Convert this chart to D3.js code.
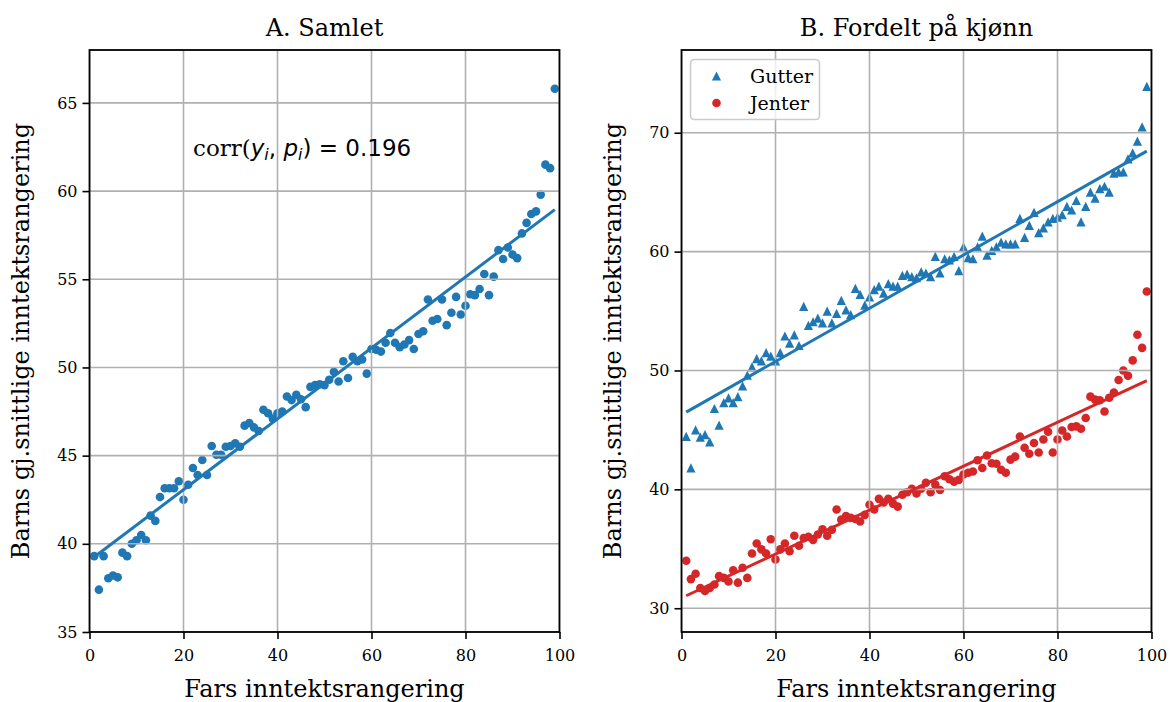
<!DOCTYPE html>
<html>
<head>
<meta charset="utf-8">
<script src="https://cdn.jsdelivr.net/npm/d3@7"></script>
<style>
  body { margin: 0; background: #fff; }
  text { font-family: 'DejaVu Serif', serif; fill: #000; }
</style>
</head>
<body>
<div id="chart"></div>
<script>
// fathers' income rank (x) for every point
const ranks = [
  1, 2, 3, 4, 5, 6, 7, 8, 9, 10, 11, 12, 13, 14, 15, 16, 17, 18, 19, 20,
  21, 22, 23, 24, 25, 26, 27, 28, 29, 30, 31, 32, 33, 34, 35, 36, 37, 38, 39, 40,
  41, 42, 43, 44, 45, 46, 47, 48, 49, 50, 51, 52, 53, 54, 55, 56, 57, 58, 59, 60,
  61, 62, 63, 64, 65, 66, 67, 68, 69, 70, 71, 72, 73, 74, 75, 76, 77, 78, 79, 80,
  81, 82, 83, 84, 85, 86, 87, 88, 89, 90, 91, 92, 93, 94, 95, 96, 97, 98, 99
]
// A. Samlet - children's mean income rank
const samlet = [
  39.3, 37.4, 39.3, 38.05, 38.2, 38.1, 39.5, 39.3, 40.0, 40.2,
  40.5, 40.2, 41.6, 41.3, 42.65, 43.15, 43.15, 43.15, 43.55, 42.5,
  43.35, 44.3, 43.9, 44.75, 43.9, 45.55, 45.05, 45.05, 45.5, 45.55,
  45.7, 45.5, 46.7, 46.85, 46.6, 46.4, 47.6, 47.4, 47.1, 47.4,
  47.5, 48.35, 48.15, 48.45, 48.2, 47.75, 48.9, 49.0, 49.05, 49.0,
  49.3, 49.75, 49.2, 50.35, 49.4, 50.6, 50.35, 50.45, 49.65, 51.05,
  51.0, 50.9, 51.4, 51.95, 51.4, 51.15, 51.3, 51.55, 51.05, 51.9,
  52.05, 53.85, 52.65, 52.75, 53.85, 52.4, 53.1, 54.0, 53.0, 53.5,
  54.15, 54.1, 54.45, 55.3, 54.1, 55.15, 56.65, 56.15, 56.8, 56.4,
  56.2, 57.6, 58.2, 58.7, 58.85, 59.8, 61.5, 61.3, 65.8
]
const samletFit = [[1, 39.25], [99, 58.95]]
const corrLabel = 0.196

// B. Fordelt på kjønn
const gutter = [
  44.45, 41.8, 45.0, 44.4, 44.6, 44.0, 46.8, 45.4, 47.3, 47.7,
  47.3, 47.8, 48.7, 49.6, 50.3, 51.0, 50.8, 51.5, 51.2, 50.8,
  51.5, 52.9, 52.3, 53.0, 52.1, 55.4, 53.8, 54.1, 54.4, 54.0,
  55.0, 54.0, 54.8, 55.9, 55.1, 54.7, 56.9, 56.4, 55.5, 56.2,
  56.8, 57.1, 56.5, 57.3, 57.1, 57.1, 58.0, 58.1, 57.9, 57.8,
  58.3, 58.2, 57.9, 59.6, 58.2, 59.4, 59.3, 59.6, 58.4, 60.4,
  59.5, 59.4, 60.4, 61.3, 59.7, 60.1, 60.4, 60.8, 60.65, 60.65,
  60.65, 62.8, 61.2, 62.2, 63.3, 61.6, 62.0, 62.5, 62.8, 62.9,
  63.1, 63.8, 63.5, 64.3, 62.5, 63.8, 65.0, 64.5, 65.3, 65.5,
  65.0, 66.6, 66.7, 66.7, 67.8, 68.3, 69.3, 70.5, 73.9
]
const jenter = [
  34.0, 32.45, 32.9, 31.7, 31.45, 31.7, 32.0, 32.7, 32.55, 32.25,
  33.2, 32.15, 33.4, 32.55, 34.6, 35.45, 34.95, 34.6, 35.8, 34.1,
  34.95, 35.45, 34.8, 36.1, 35.25, 35.9, 36.0, 35.75, 36.2, 36.65,
  36.1, 36.6, 38.3, 37.45, 37.75, 37.6, 37.5, 37.3, 37.85, 38.7,
  38.3, 39.2, 38.9, 39.2, 38.8, 38.55, 39.55, 39.75, 40.05, 39.65,
  40.05, 40.55, 39.75, 40.4, 39.95, 41.1, 40.85, 40.65, 40.8, 41.25,
  41.4, 41.5, 42.45, 41.8, 42.85, 42.2, 42.15, 41.65, 41.4, 42.5,
  42.75, 44.45, 43.5, 43.0, 43.9, 43.1, 44.2, 44.85, 43.1, 44.2,
  44.95, 44.45, 45.25, 45.3, 45.1, 46.0, 47.8, 47.55, 47.5, 46.55,
  47.7, 48.15, 49.2, 50.0, 49.55, 50.85, 53.0, 51.9, 56.65
]
const gutterFit = [[1, 46.5], [99, 68.45]]
const jenterFit = [[1, 31.05], [99, 49.15]]

const xTicks = [0, 20, 40, 60, 80, 100]
const yTicksA = [35, 40, 45, 50, 55, 60, 65]
const yTicksB = [30, 40, 50, 60, 70]

const blue = '#1f77b4',
  red = '#d62728',
  gridColor = '#b0b0b0'

const width = 1170,
  height = 702,
  plotTop = 50,
  plotBottom = 632

const svg = d3.select('#chart').append('svg')
  .attr('width', width)
  .attr('height', height)
  .style('display', 'block')

// matplotlib style '^' marker: square bounding box, apex up
const triangleUp = {
  draw(context, size) {
    const r = Math.sqrt(size) / 2
    context.moveTo(0, -r)
    context.lineTo(r, r)
    context.lineTo(-r, r)
    context.closePath()
  }
}
const markerSize = 9.2 * 9.2

function drawPanel(id, left, right, yDomain, yTicks, title) {
  const x = d3.scaleLinear().domain([0, 100]).range([left, right])
  const y = d3.scaleLinear().domain(yDomain).range([plotBottom, plotTop])
  const g = svg.append('g').attr('id', id)

  g.append('clipPath').attr('id', `${id}-clip`)
    .append('rect')
    .attr('x', left).attr('y', plotTop)
    .attr('width', right - left).attr('height', plotBottom - plotTop)

  const plotG = g.append('g').attr('clip-path', `url(#${id}-clip)`)
  const scatterG = plotG.append('g')
  const gridG = plotG.append('g')
  const lineG = plotG.append('g')

  // grid
  gridG.selectAll('.vgrid').data(xTicks)
    .enter().append('line')
    .attr('x1', d => x(d)).attr('x2', d => x(d))
    .attr('y1', plotTop).attr('y2', plotBottom)
    .attr('stroke', gridColor).attr('stroke-width', 1.6)
  gridG.selectAll('.hgrid').data(yTicks)
    .enter().append('line')
    .attr('x1', left).attr('x2', right)
    .attr('y1', d => y(d)).attr('y2', d => y(d))
    .attr('stroke', gridColor).attr('stroke-width', 1.6)

  // axes
  const xAxis = g.append('g')
    .attr('transform', `translate(0, ${plotBottom})`)
    .call(d3.axisBottom(x).tickValues(xTicks).tickSize(7).tickPadding(11).tickFormat(d3.format('d')))
  const yAxis = g.append('g')
    .attr('transform', `translate(${left}, 0)`)
    .call(d3.axisLeft(y).tickValues(yTicks).tickSize(7).tickPadding(5).tickFormat(d3.format('d')))
  for(const ax of [xAxis, yAxis]) {
    ax.select('.domain').remove()
    ax.selectAll('.tick line').attr('stroke', '#000').attr('stroke-width', 1.6)
    ax.selectAll('.tick text')
      .style('font-family', "'DejaVu Serif', serif")
      .style('font-size', '16px')
      .attr('fill', '#000')
  }

  // frame
  g.append('rect')
    .attr('x', left).attr('y', plotTop)
    .attr('width', right - left).attr('height', plotBottom - plotTop)
    .attr('fill', 'none')
    .attr('stroke', '#000')
    .attr('stroke-width', 1.8)

  // title and labels
  g.append('text')
    .text(title)
    .attr('x', (left + right) / 2)
    .attr('y', 36)
    .style('text-anchor', 'middle')
    .style('font-size', '24px')
  g.append('text')
    .text('Fars inntektsrangering')
    .attr('x', (left + right) / 2)
    .attr('y', 697)
    .style('text-anchor', 'middle')
    .style('font-size', '24px')
  g.append('text')
    .text('Barns gj.snittlige inntektsrangering')
    .attr('transform', `translate(${left - 61}, ${(plotTop + plotBottom) / 2}) rotate(-90)`)
    .style('text-anchor', 'middle')
    .style('font-size', '24px')

  return {x, y, g, scatterG, lineG}
}

const line = (x, y) => d3.line()
  .x(d => x(d[0]))
  .y(d => y(d[1]))

// panel A
const pa = drawPanel('panel-a', 89.5, 559.5, [35, 68], yTicksA, 'A. Samlet')
pa.scatterG.selectAll('.dot').data(samlet)
  .enter().append('circle')
  .attr('cx', (d, i) => pa.x(ranks[i]))
  .attr('cy', d => pa.y(d))
  .attr('r', 4.3)
  .attr('fill', blue)
pa.lineG.append('path')
  .datum(samletFit)
  .attr('d', line(pa.x, pa.y))
  .attr('fill', 'none')
  .attr('stroke', blue)
  .attr('stroke-width', 3)

const corrText = pa.g.append('text')
  .attr('x', 193)
  .attr('y', 156)
  .style('font-size', '23px')
corrText.append('tspan').text('corr(')
const sans = "'DejaVu Sans', sans-serif"
corrText.append('tspan').text('y').style('font-family', sans).style('font-style', 'italic')
corrText.append('tspan').text('i').style('font-family', sans).style('font-style', 'italic')
  .style('font-size', '16px').attr('dy', 4)
corrText.append('tspan').text(', ').style('font-family', sans).attr('dy', -4)
corrText.append('tspan').text('p').style('font-family', sans).style('font-style', 'italic')
corrText.append('tspan').text('i').style('font-family', sans).style('font-style', 'italic')
  .style('font-size', '16px').attr('dy', 4)
corrText.append('tspan').text(`) = ${corrLabel}`).style('font-family', sans).attr('dy', -4)

// panel B
const pb = drawPanel('panel-b', 681.5, 1151.5, [28.0, 76.96], yTicksB, 'B. Fordelt på kjønn')
pb.scatterG.selectAll('.tri').data(gutter)
  .enter().append('path')
  .attr('d', d3.symbol(triangleUp, markerSize))
  .attr('transform', (d, i) => `translate(${pb.x(ranks[i])}, ${pb.y(d)})`)
  .attr('fill', blue)
pb.scatterG.selectAll('.dot').data(jenter)
  .enter().append('circle')
  .attr('cx', (d, i) => pb.x(ranks[i]))
  .attr('cy', d => pb.y(d))
  .attr('r', 4.3)
  .attr('fill', red)
pb.lineG.append('path')
  .datum(gutterFit)
  .attr('d', line(pb.x, pb.y))
  .attr('fill', 'none')
  .attr('stroke', blue)
  .attr('stroke-width', 3)
pb.lineG.append('path')
  .datum(jenterFit)
  .attr('d', line(pb.x, pb.y))
  .attr('fill', 'none')
  .attr('stroke', red)
  .attr('stroke-width', 3)

// legend
const legendG = pb.g.append('g').attr('transform', 'translate(690, 59)')
legendG.append('rect')
  .attr('x', 0.5).attr('y', 0.5)
  .attr('width', 129).attr('height', 60)
  .attr('rx', 4)
  .attr('fill', '#fff').attr('fill-opacity', 0.8)
  .attr('stroke', '#cccccc').attr('stroke-width', 1.6)
const legendItems = [
  {label: 'Gutter', color: blue, symbol: triangleUp},
  {label: 'Jenter', color: red, symbol: d3.symbolCircle}
]
const item = legendG.selectAll('.item').data(legendItems)
  .enter().append('g')
  .attr('transform', (d, i) => `translate(0, ${17 + i * 27})`)
item.append('path')
  .attr('d', d => d3.symbol(d.symbol, d.symbol === triangleUp ? markerSize : Math.PI * 4.3 * 4.3)())
  .attr('transform', 'translate(26.5, 0)')
  .attr('fill', d => d.color)
item.append('text')
  .text(d => d.label)
  .attr('x', 60)
  .attr('y', 6.5)
  .style('font-size', '19px')
</script>
</body>
</html>
